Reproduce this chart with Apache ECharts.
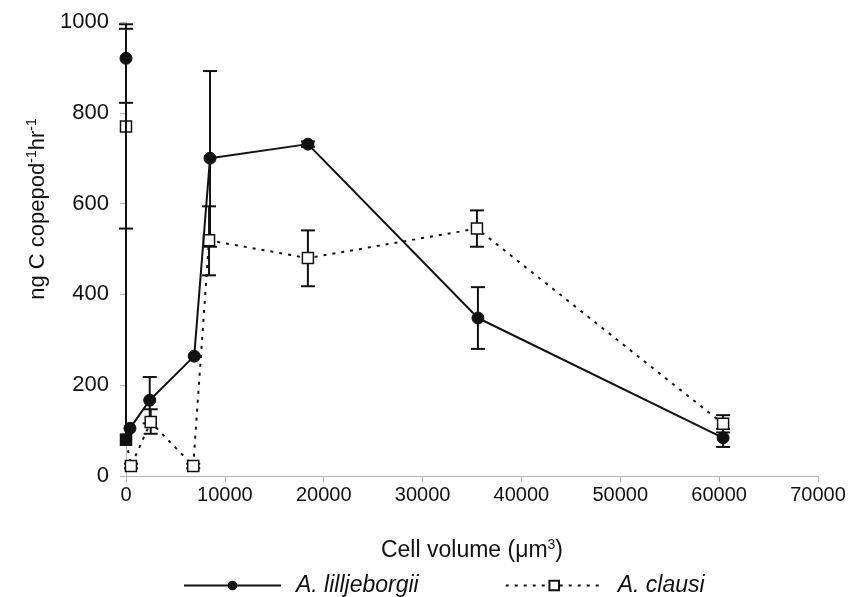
<!DOCTYPE html>
<html>
<head>
<meta charset="utf-8">
<script src="https://cdn.jsdelivr.net/npm/echarts@6/dist/echarts.min.js"></script>
<style>
  html, body { margin: 0; padding: 0; background: #fff; }
  #chart { width: 858px; height: 597px; }
</style>
</head>
<body>
<div id="chart"></div>
<script>
// A. lilljeborgii (solid line, filled circles)
let xLill = [0, 0, 400, 2400, 6900, 8500, 18400, 35600, 60400];
let yLill = [920, 80, 105, 167, 264, 700, 731, 348, 84];
let lillLow = [822, null, null, 116, null, 505, 725, 280, 64];
let lillHigh = [985, null, null, 218, null, 892, 737, 416, 104];

// A. clausi (dotted line, open squares)
let xClausi = [0, 0, 500, 2500, 6800, 8400, 18400, 35500, 60400];
let yClausi = [770, 80, 22, 119, 22, 519, 480, 545, 115];
let clausiLow = [545, null, 17, 93, 17, 442, 418, 505, 96];
let clausiHigh = [995, null, 27, 147, 27, 594, 541, 585, 134];

let xTicks = [0, 10000, 20000, 30000, 40000, 50000, 60000, 70000];
let yTicks = [0, 200, 400, 600, 800, 1000];

let chart = echarts.init(document.getElementById('chart'));

function pairs(xs, ys) {
    let out = [];
    for (let i = 0; i < xs.length; i++) out.push([xs[i], ys[i]]);
    return out;
}

function errData(xs, lo, hi) {
    let out = [];
    for (let i = 0; i < xs.length; i++) {
        if (lo[i] === null) continue;
        out.push([xs[i], lo[i], hi[i]]);
    }
    return out;
}

function renderErr(params, api) {
    let x = api.value(0);
    let lo = api.coord([x, api.value(1)]);
    let hi = api.coord([x, api.value(2)]);
    let w = 7;
    let style = { stroke: '#111', lineWidth: 2 };
    return {
        type: 'group',
        children: [
            { type: 'line', shape: { x1: lo[0], y1: lo[1], x2: hi[0], y2: hi[1] }, style: style },
            { type: 'line', shape: { x1: lo[0] - w, y1: lo[1], x2: lo[0] + w, y2: lo[1] }, style: style },
            { type: 'line', shape: { x1: hi[0] - w, y1: hi[1], x2: hi[0] + w, y2: hi[1] }, style: style }
        ]
    };
}

let lillData = pairs(xLill, yLill);
lillData[1] = { value: lillData[1], symbol: 'rect', symbolSize: 11 };
let clausiData = pairs(xClausi, yClausi);
clausiData[1] = { value: clausiData[1], symbol: 'rect', symbolSize: 11, itemStyle: { color: '#111' } };

let axisColor = '#b5b5b5';

let option = {
    animation: false,
    textStyle: { fontFamily: 'Liberation Sans, Arial, sans-serif' },
    grid: { left: 126, right: 40, top: 22, bottom: 121 },
    legend: {
        data: ['A. lilljeborgii', 'A. clausi'],
        top: 569,
        left: 178,
        itemWidth: 97,
        itemHeight: 12,
        itemGap: 86,
        textStyle: { fontSize: 23, fontStyle: 'italic', color: '#111', padding: [0, 0, 0, 10] }
    },
    xAxis: {
        type: 'value',
        min: 0,
        max: 70000,
        interval: 10000,
        name: '{n|Cell volume (μm}{s|3}{n|)}',
        nameLocation: 'middle',
        nameGap: 62,
        nameTextStyle: {
            rich: {
                n: { fontSize: 23, color: '#111' },
                s: { fontSize: 14, color: '#111', verticalAlign: 'top', padding: [0, 0, 12, 0] }
            }
        },
        axisLine: { lineStyle: { color: axisColor } },
        axisTick: { show: true, length: 6, lineStyle: { color: axisColor } },
        axisLabel: {
            fontSize: 20, color: '#111', margin: 9,
            formatter: function (v) { return xTicks.indexOf(v) >= 0 ? String(v) : ''; }
        },
        splitLine: { show: false }
    },
    yAxis: {
        type: 'value',
        min: 0,
        max: 1000,
        interval: 200,
        name: '{n|ng C copepod}{s|-1}{n|hr}{s|-1}',
        nameLocation: 'middle',
        nameGap: 74,
        nameTextStyle: {
            padding: [0, 0, 0, 80],
            rich: {
                n: { fontSize: 22, color: '#111' },
                s: { fontSize: 14, color: '#111', verticalAlign: 'top', padding: [0, 0, 12, 0] }
            }
        },
        axisLine: { show: true, lineStyle: { color: axisColor } },
        axisTick: { show: true, length: 6, lineStyle: { color: axisColor } },
        axisLabel: {
            fontSize: 22, color: '#111', margin: 17,
            formatter: function (v) { return yTicks.indexOf(v) >= 0 ? String(v) : ''; }
        },
        splitLine: { show: false }
    },
    series: [
        {
            name: 'A. lilljeborgii',
            type: 'line',
            data: lillData,
            symbol: 'circle',
            symbolSize: 12,
            z: 4,
            lineStyle: { color: '#111', width: 2 },
            itemStyle: { color: '#111', borderColor: '#111' }
        },
        {
            name: 'A. clausi',
            type: 'line',
            data: clausiData,
            symbol: 'rect',
            symbolSize: 11,
            z: 3,
            lineStyle: { color: '#111', width: 2, type: [3, 6], cap: 'butt' },
            itemStyle: { color: '#fff', borderColor: '#111', borderWidth: 1.5 }
        },
        {
            name: 'errLill',
            type: 'custom',
            renderItem: renderErr,
            data: errData(xLill, lillLow, lillHigh),
            z: 2,
            silent: true
        },
        {
            name: 'errClausi',
            type: 'custom',
            renderItem: renderErr,
            data: errData(xClausi, clausiLow, clausiHigh),
            z: 2,
            silent: true
        }
    ]
};

chart.setOption(option);
</script>
</body>
</html>
